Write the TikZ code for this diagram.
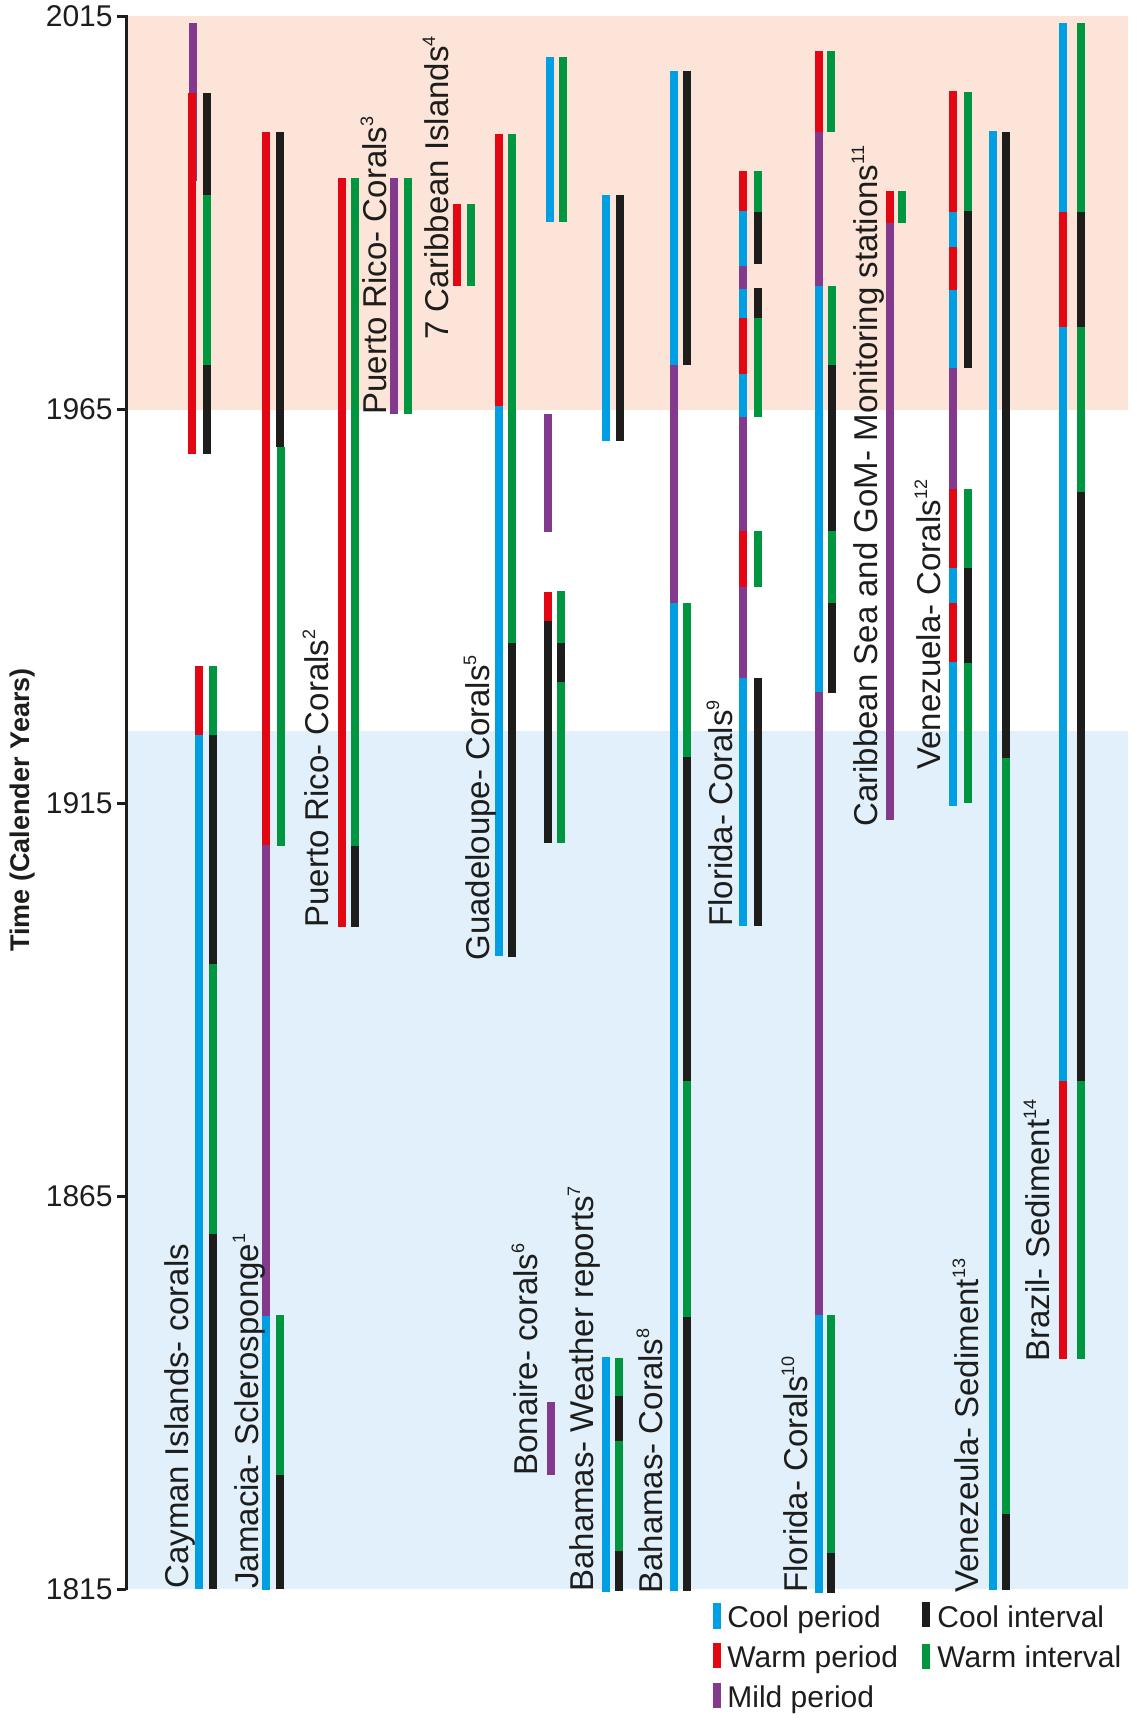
\documentclass[tikz,border=0pt]{standalone}
\usepackage{fontspec}
\setmainfont{Liberation Sans}
\usepackage{tikz}
\usetikzlibrary{positioning}
\definecolor{coolc}{HTML}{009FE3}
\definecolor{warmc}{HTML}{E30613}
\definecolor{mildc}{HTML}{843A8C}
\definecolor{inkc}{HTML}{1D1D1B}
\definecolor{warmbg}{HTML}{FCE4D9}
\definecolor{coolbg}{HTML}{E1F0FB}
\definecolor{greenc}{HTML}{009640}
\newcommand{\sitefont}{\fontsize{16.5}{19}\selectfont}
\newcommand{\tickfont}{\fontsize{15}{18}\selectfont}
\newcommand{\refno}[1]{\raisebox{6.4pt}{\fontsize{9}{10}\selectfont #1}}
\tikzstyle{cool}=[draw=coolc,line width=4pt]
\tikzstyle{warm}=[draw=warmc,line width=4pt]
\tikzstyle{mild}=[draw=mildc,line width=4pt]
\tikzstyle{coolint}=[draw=inkc,line width=4pt]
\tikzstyle{warmint}=[draw=greenc,line width=4pt]
\tikzstyle{site}=[rotate=90,anchor=base west,inner sep=0pt,font=\sitefont,text=inkc]
\tikzstyle{yeartick}=[anchor=east,inner sep=0pt,font=\tickfont,text=inkc]
\tikzstyle{legtext}=[anchor=base west,inner sep=0pt,font=\tickfont,text=inkc]

\begin{document}
\begin{tikzpicture}[x=0.5pt,y=-0.5pt]
\useasboundingbox (0,0) rectangle (1137,1719);

% background bands
\fill[warmbg] (126,16) rectangle (1128,410);
\fill[coolbg] (126,731) rectangle (1128,1589);

% time axis
\draw[inkc,line width=1.5pt] (126,15) -- (126,1590);
\draw[inkc,line width=1.5pt] (117,16) -- (126,16);
\draw[inkc,line width=1.5pt] (117,409) -- (126,409);
\draw[inkc,line width=1.5pt] (117,803) -- (126,803);
\draw[inkc,line width=1.5pt] (117,1196) -- (126,1196);
\draw[inkc,line width=1.5pt] (117,1589) -- (126,1589);
\node[yeartick] (y2015) at (113,16) {2015};
\node[yeartick] (y1965) at (113,409) {1965};
\node[yeartick] (y1915) at (113,803) {1915};
\node[yeartick] (y1865) at (113,1196) {1865};
\node[yeartick] (y1815) at (113,1589) {1815};
\node[rotate=90,inner sep=0pt,font=\fontsize{13.5}{16}\selectfont\bfseries,text=inkc] (ytitle) at (23,810) {Time (Calender Years)};

% Cayman Islands
\draw[mild] (193,23) -- (193,181);
\draw[warm] (192,93) -- (192,454);
\draw[coolint] (207,93) -- (207,195);
\draw[warmint] (207,195) -- (207,365);
\draw[coolint] (207,365) -- (207,454);
\draw[warm] (199,666) -- (199,735);
\draw[cool] (199,735) -- (199,1589);
\draw[warmint] (213,666) -- (213,735);
\draw[coolint] (213,735) -- (213,964);
\draw[warmint] (213,964) -- (213,1234);
\draw[coolint] (213,1234) -- (213,1589);

% Jamacia
\draw[warm] (266,132) -- (266,845);
\draw[mild] (266,845) -- (266,1316);
\draw[cool] (266,1316) -- (266,1590);
\draw[coolint] (280,132) -- (280,447);
\draw[warmint] (281,447) -- (281,846);
\draw[warmint] (280,1315) -- (280,1475);
\draw[coolint] (280,1475) -- (280,1589);

% Puerto Rico (2)
\draw[warm] (342,178) -- (342,927);
\draw[warmint] (355,178) -- (355,846);
\draw[coolint] (355,846) -- (355,927);

% Puerto Rico (3)
\draw[mild] (394,178) -- (394,414);
\draw[warmint] (408,178) -- (408,414);

% 7 Caribbean Islands
\draw[warm] (457,204) -- (457,286);
\draw[warmint] (471,204) -- (471,286);

% Guadeloupe
\draw[warm] (499,134) -- (499,406);
\draw[cool] (499,406) -- (499,956);
\draw[warmint] (512,134) -- (512,643);
\draw[coolint] (512,643) -- (512,957);

% Bonaire
\draw[cool] (550,57) -- (550,222);
\draw[warmint] (563,57) -- (563,222);
\draw[mild] (548,414) -- (548,532);
\draw[warm] (548,592) -- (548,621);
\draw[coolint] (548,621) -- (548,843);
\draw[warmint] (561,591) -- (561,643);
\draw[coolint] (561,643) -- (561,682);
\draw[warmint] (561,682) -- (561,843);
\draw[mild] (551,1402) -- (551,1475);

% Bahamas weather reports
\draw[cool] (606,195) -- (606,441);
\draw[coolint] (620,195) -- (620,441);
\draw[cool] (606,1357) -- (606,1592);
\draw[warmint] (619,1358) -- (619,1396);
\draw[coolint] (619,1396) -- (619,1441);
\draw[warmint] (619,1441) -- (619,1551);
\draw[coolint] (619,1551) -- (619,1591);

% Bahamas corals
\draw[cool] (674,71) -- (674,365);
\draw[mild] (674,365) -- (674,603);
\draw[cool] (674,603) -- (674,1591);
\draw[coolint] (687,71) -- (687,365);
\draw[warmint] (687,603) -- (687,757);
\draw[coolint] (687,757) -- (687,1081);
\draw[warmint] (687,1081) -- (687,1317);
\draw[coolint] (687,1317) -- (687,1591);

% Florida (9)
\draw[warm] (743,171) -- (743,211);
\draw[cool] (743,211) -- (743,266);
\draw[mild] (743,266) -- (743,289);
\draw[cool] (743,289) -- (743,318);
\draw[warm] (743,318) -- (743,374);
\draw[cool] (743,374) -- (743,417);
\draw[mild] (743,417) -- (743,531);
\draw[warm] (743,531) -- (743,587);
\draw[mild] (743,587) -- (743,678);
\draw[cool] (743,678) -- (743,926);
\draw[warmint] (758,171) -- (758,212);
\draw[coolint] (758,212) -- (758,264);
\draw[coolint] (758,288) -- (758,318);
\draw[warmint] (758,318) -- (758,417);
\draw[warmint] (758,531) -- (758,587);
\draw[coolint] (758,678) -- (758,926);

% Florida (10)
\draw[warm] (819,51) -- (819,132);
\draw[mild] (819,132) -- (819,286);
\draw[cool] (819,286) -- (819,692);
\draw[mild] (819,692) -- (819,1315);
\draw[cool] (819,1315) -- (819,1593);
\draw[warmint] (831,51) -- (831,132);
\draw[warmint] (832,286) -- (832,365);
\draw[coolint] (832,365) -- (832,531);
\draw[warmint] (832,531) -- (832,603);
\draw[coolint] (832,603) -- (832,693);
\draw[warmint] (831,1315) -- (831,1553);
\draw[coolint] (831,1553) -- (831,1593);

% Caribbean Sea and GoM
\draw[warm] (890,191) -- (890,223);
\draw[mild] (890,223) -- (890,820);
\draw[warmint] (902,191) -- (902,223);

% Venezuela corals
\draw[warm] (953,91) -- (953,212);
\draw[cool] (953,212) -- (953,247);
\draw[warm] (953,247) -- (953,290);
\draw[cool] (953,290) -- (953,368);
\draw[mild] (953,368) -- (953,489);
\draw[warm] (953,489) -- (953,568);
\draw[cool] (953,568) -- (953,603);
\draw[warm] (953,603) -- (953,662);
\draw[cool] (953,662) -- (953,806);
\draw[warmint] (968,92) -- (968,211);
\draw[coolint] (968,211) -- (968,368);
\draw[warmint] (968,489) -- (968,568);
\draw[coolint] (968,568) -- (968,663);
\draw[warmint] (968,663) -- (968,803);

% Venezeula sediment
\draw[cool] (993,131) -- (993,1590);
\draw[coolint] (1006,132) -- (1006,758);
\draw[warmint] (1006,758) -- (1006,1514);
\draw[coolint] (1006,1514) -- (1006,1590);

% Brazil sediment
\draw[cool] (1063,23) -- (1063,212);
\draw[warm] (1063,212) -- (1063,327);
\draw[cool] (1063,327) -- (1063,1081);
\draw[warm] (1063,1081) -- (1063,1359);
\draw[warmint] (1081,23) -- (1081,212);
\draw[coolint] (1081,212) -- (1081,327);
\draw[warmint] (1081,327) -- (1081,492);
\draw[coolint] (1081,492) -- (1081,1081);
\draw[warmint] (1081,1081) -- (1081,1359);

% site labels
\node[site] (lab_cay) at (188,1589) {Cayman Islands- corals};
\node[site] (lab_jam) at (258,1589) {Jamacia- Sclerosponge\refno{1}};
\node[site] (lab_pr2) at (328,928) {Puerto Rico- Corals\refno{2}};
\node[site] (lab_pr3) at (386,415) {Puerto Rico- Corals\refno{3}};
\node[site] (lab_car) at (448,340) {7 Caribbean Islands\refno{4}};
\node[site] (lab_gua) at (489,961) {Guadeloupe- Corals\refno{5}};
\node[site] (lab_bon) at (537,1476) {Bonaire- corals\refno{6}};
\node[site] (lab_bhw) at (593,1592) {Bahamas- Weather reports\refno{7}};
\node[site] (lab_bhc) at (662,1594) {Bahamas- Corals\refno{8}};
\node[site] (lab_fl9) at (732,927) {Florida- Corals\refno{9}};
\node[site] (lab_fl10) at (807,1593) {Florida- Corals\refno{10}};
\node[site] (lab_gom) at (877,827) {Caribbean Sea and GoM- Monitoring stations\refno{11}};
\node[site] (lab_vec) at (940,770) {Venezuela- Corals\refno{12}};
\node[site] (lab_ves) at (978,1593) {Venezeula- Sediment\refno{13}};
\node[site] (lab_bra) at (1049,1362) {Brazil- Sediment\refno{14}};

% legend
\draw[cool] (717,1603) -- (717,1629);
\draw[warm] (717,1643) -- (717,1668);
\draw[mild] (717,1683) -- (717,1708);
\draw[coolint] (926,1602) -- (926,1627);
\draw[warmint] (926,1644) -- (926,1669);
\node[legtext] (leg_cp) at (727,1627) {Cool period};
\node[legtext] (leg_wp) at (727,1667) {Warm period};
\node[legtext] (leg_mp) at (727,1707) {Mild period};
\node[legtext] (leg_ci) at (937,1627) {Cool interval};
\node[legtext] (leg_wi) at (937,1667) {Warm interval};

\end{tikzpicture}
\end{document}
